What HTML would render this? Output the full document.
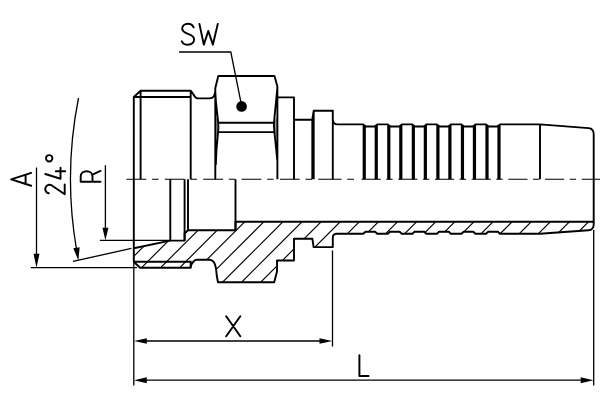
<!DOCTYPE html>
<html><head><meta charset="utf-8"><style>
html,body{margin:0;padding:0;background:#fff;width:600px;height:400px;overflow:hidden;font-family:"Liberation Sans",sans-serif;}
svg{display:block;}
</style></head><body>
<svg width="600" height="400" viewBox="0 0 600 400">
<rect width="600" height="400" fill="#fff"/>
<clipPath id="sc"><path d="M133.8 248.3 L170.3 240.6 L184.6 240.6 L184.6 233.5 L188 230.3 L235.5 230.3 L235.5 221.7 L593.7 221.7 L593.7 224.5 Q593.7 229.9 588.5 230.3 L540 233.8 L500.00 233.8 L497.80 231.7 L488.20 231.7 L486.00 233.8 L475.45 233.8 L473.25 231.7 L463.65 231.7 L461.45 233.8 L450.90 233.8 L448.70 231.7 L439.10 231.7 L436.90 233.8 L426.35 233.8 L424.15 231.7 L414.55 231.7 L412.35 233.8 L401.80 233.8 L399.60 231.7 L390.00 231.7 L387.80 233.8 L377.25 233.8 L375.05 231.7 L365.45 231.7 L363.25 233.8 L337 233.7 Q332.8 233.7 332.8 237.5 L332.8 247.1 L313.6 247.1 L312.4 238.8 L294 238.8 L294 260.5 L277 260.5 L277 271.5 L274.2 282.2 L218 282.2 L216.8 276 L216 268.5 C215.5 265, 214 260, 209.5 259.8 L197 259.8 C193.5 259.8, 192 263, 190.7 266 L190.7 267.7 L140 267.7 L133.8 261.7 Z"/></clipPath>
<path clip-path="url(#sc)" d="M71.00 300L161.00 210 M90.10 300L180.10 210 M109.20 300L199.20 210 M128.30 300L218.30 210 M147.40 300L237.40 210 M166.50 300L256.50 210 M185.60 300L275.60 210 M204.70 300L294.70 210 M223.80 300L313.80 210 M242.90 300L332.90 210 M262.00 300L352.00 210 M281.10 300L371.10 210 M300.20 300L390.20 210 M319.30 300L409.30 210 M338.40 300L428.40 210 M357.50 300L447.50 210 M376.60 300L466.60 210 M395.70 300L485.70 210 M414.80 300L504.80 210 M433.90 300L523.90 210 M453.00 300L543.00 210 M472.10 300L562.10 210 M491.20 300L581.20 210 M510.30 300L600.30 210 M529.40 300L619.40 210 M548.50 300L638.50 210" stroke="#000" stroke-width="1.15" fill="none"/>
<path d="M133.8 248.3 L170.3 240.6 L184.6 240.6 L184.6 233.5 L188 230.3 L235.5 230.3 L235.5 221.7 L593.7 221.7 L593.7 224.5 Q593.7 229.9 588.5 230.3 L540 233.8 L500.00 233.8 L497.80 231.7 L488.20 231.7 L486.00 233.8 L475.45 233.8 L473.25 231.7 L463.65 231.7 L461.45 233.8 L450.90 233.8 L448.70 231.7 L439.10 231.7 L436.90 233.8 L426.35 233.8 L424.15 231.7 L414.55 231.7 L412.35 233.8 L401.80 233.8 L399.60 231.7 L390.00 231.7 L387.80 233.8 L377.25 233.8 L375.05 231.7 L365.45 231.7 L363.25 233.8 L337 233.7 Q332.8 233.7 332.8 237.5 L332.8 247.1 L313.6 247.1 L312.4 238.8 L294 238.8 L294 260.5 L277 260.5 L277 271.5 L274.2 282.2 L218 282.2 L216.8 276 L216 268.5 C215.5 265, 214 260, 209.5 259.8 L197 259.8 C193.5 259.8, 192 263, 190.7 266 L190.7 267.7 L140 267.7 L133.8 261.7 Z" stroke="#000" stroke-width="1.9" fill="none" stroke-linejoin="round"/>
<path d="M133.8 261.7 L190.7 261.7 L190.7 267.7" stroke="#000" stroke-width="1.9" fill="none"/>
<path d="M133.8 179.2 L133.8 248.3 M170.3 179.2 L170.3 240.6 M184.6 179.2 L184.6 240.6 M188 179.2 L188 230.3 M235.5 179.2 L235.5 230.3 M593.7 179.2 L593.7 221.7" stroke="#000" stroke-width="1.9" fill="none"/>
<path d="M215.3 116 C217 119, 218.4 122, 218.4 127 C218.4 132, 217 135, 215.3 139 Z M277.4 116 C275.5 119, 274 122, 274 126 C274 131, 275.8 135, 277.4 140 Z" fill="#999"/>
<path d="M133.8 179.2 L133.8 97 L140.6 90.7 L190.7 90.7 L190.7 179.2 M140.6 90.7 L140.6 179.2 M133.8 97 L190.7 97 M190.7 90.7 C193.5 93, 194 98.4, 198 98.4 L209.5 98.4 C213.5 98.4, 215.3 96, 215.3 90 M215.3 179.2 L215.3 88 L218.3 76 L274.5 76 L277.4 86.5 L277.4 179.2 M215.3 92 C216 110, 218.4 118, 218.4 127.5 C218.4 133, 216.3 142, 215.8 165 M277.4 86.5 C276.8 96, 275 110, 274 123.5 C273.4 128, 275.5 138, 277.2 160 M218.4 122.7 L273.8 122.7 M218.4 132.1 L273.8 132.1 M277.4 97.4 L294 97.4 L294 179.2 M294 119.8 L312.3 119.8 M313.7 179.2 L313.7 110.8 L332.8 110.8 L332.8 179.2 M313.7 110.8 L312.3 119.5 L312.3 179.2 M332.8 119.5 C333 123, 334.5 124.4, 337.5 124.4 L363.2 124.4 M363.2 124.4 L363.25 124.4 L365.45 126.5 L375.05 126.5 L377.25 124.4 L387.80 124.4 L390.00 126.5 L399.60 126.5 L401.80 124.4 L412.35 124.4 L414.55 126.5 L424.15 126.5 L426.35 124.4 L436.90 124.4 L439.10 126.5 L448.70 126.5 L450.90 124.4 L461.45 124.4 L463.65 126.5 L473.25 126.5 L475.45 124.4 L486.00 124.4 L488.20 126.5 L497.80 126.5 L500.00 124.4 L540 124.4 L588.5 128.1 Q593.7 128.5 593.7 134 L593.7 179.2 M540 124.4 L540 179.2" stroke="#000" stroke-width="1.9" fill="none" stroke-linejoin="round"/>
<path d="M364.25 125 L364.25 179.2 M376.25 125 L376.25 179.2 M388.8 125 L388.8 179.2 M400.8 125 L400.8 179.2 M413.35 125 L413.35 179.2 M425.35 125 L425.35 179.2 M437.9 125 L437.9 179.2 M449.9 125 L449.9 179.2 M462.45 125 L462.45 179.2 M474.45 125 L474.45 179.2 M487.0 125 L487.0 179.2 M499.0 125 L499.0 179.2" stroke="#000" stroke-width="3.2"/>
<circle cx="241.6" cy="106.4" r="5.3" fill="#000"/>
<path d="M179.1 52 L230.8 52 L241.7 106.2" stroke="#000" stroke-width="1.3" fill="none"/>
<path d="M126.50 179.2L146.30 179.2M152.10 179.2L158.60 179.2M164.85 179.2L184.65 179.2M190.45 179.2L196.95 179.2M203.20 179.2L223.00 179.2M228.80 179.2L235.30 179.2M241.55 179.2L261.35 179.2M267.15 179.2L273.65 179.2M279.90 179.2L299.70 179.2M305.50 179.2L312.00 179.2M318.25 179.2L341.60 179.2M347.3 179.2L354 179.2M361.50 179.2L380.70 179.2M386.20 179.2L392.60 179.2M398.20 179.2L417.40 179.2M422.90 179.2L429.30 179.2M434.90 179.2L454.10 179.2M459.60 179.2L466.00 179.2M471.60 179.2L490.80 179.2M496.30 179.2L502.70 179.2M508.30 179.2L527.50 179.2M533.00 179.2L539.40 179.2M545.00 179.2L564.20 179.2M569.70 179.2L576.10 179.2M581.70 179.2L600.00 179.2" stroke="#000" stroke-width="1.15" fill="none"/>
<path d="M30.8 267.7 L137 267.7 M99.8 240.3 L170.3 240.3 M36.5 167.4 L36.5 260 M105.4 165.3 L105.4 232 M133.8 262 L133.8 385.6 M332.5 250.5 L332.5 346.5 M593.7 230 L593.7 385.5 M140 341 L326 341 M140 380.2 L587 380.2 M73 261.4 L131.4 248.4 M78.5 98 A415.1 415.1 0 0 0 76.6 250" stroke="#000" stroke-width="1.3" fill="none"/>
<path d="M36.50 267.70 L33.50 253.70 L39.50 253.70 Z M105.40 240.30 L102.40 227.80 L108.40 227.80 Z M78.40 260.60 L73.31 248.22 L79.64 247.27 Z M134.00 341.00 L146.80 338.20 L146.80 343.80 Z M332.30 341.00 L319.50 343.80 L319.50 338.20 Z M134.00 380.20 L146.80 377.20 L146.80 383.20 Z M593.50 380.20 L580.70 383.20 L580.70 377.20 Z" fill="#000"/>
<path d="M193.6 27.3 C192.6 25, 190.5 23.8, 188 23.8 C184.5 23.8, 182.2 25.8, 182.2 28.6 C182.2 31.6, 184.6 32.8, 188 33.9 C191.8 35.1, 194.1 36.6, 194.1 39.6 C194.1 42.6, 191.5 44.7, 188 44.7 C185 44.7, 182.8 43.4, 181.8 41.3 M199.4 23.9 L203.8 44.6 L208.3 31.0 L212.9 44.6 L217.8 23.9 M226.2 316.2 L240.3 336.3 M240.3 316.2 L226.2 336.3 M359.4 355.3 L359.4 375.9 L368.5 375.9 M31.2 185.8 L11.2 179.4 L31.2 172.9 M25.6 183.9 L25.6 174.8 M48.8 193.3 A4.3 4.3 0 1 1 52.6 186 L64.7 194.2 L64.7 184.5 M45.3 174 L60.5 178.7 L60.5 167.8 M55.8 171.3 L65.2 171.3 M100.5 181.8 L80.7 181.8 L80.7 176.5 C80.7 169.5, 92.5 169.5, 92.5 176.5 L92.5 181.8 M92.5 174.6 L100.5 170.9" stroke="#000" stroke-width="1.95" fill="none" stroke-linecap="round" stroke-linejoin="round"/>
<circle cx="49.2" cy="158.3" r="3.2" stroke="#000" stroke-width="1.9" fill="none"/>
</svg>
</body></html>
